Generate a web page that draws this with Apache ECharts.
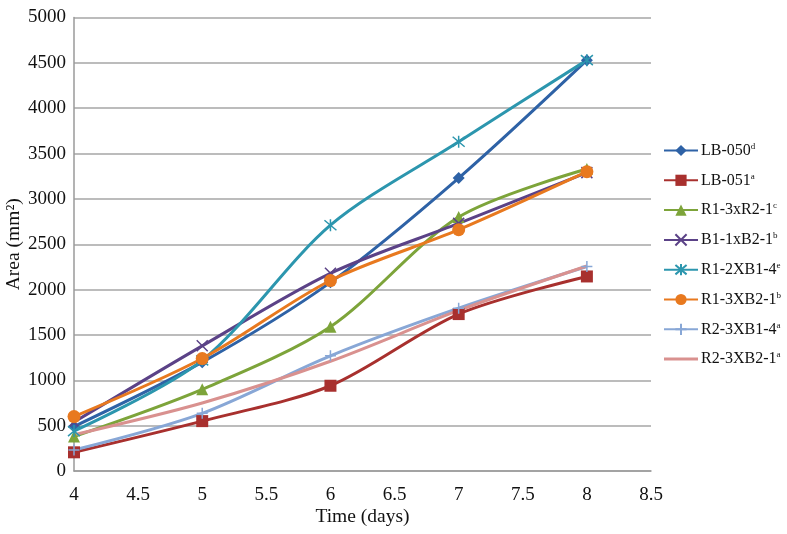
<!DOCTYPE html>
<html><head><meta charset="utf-8">
<script src="https://cdn.jsdelivr.net/npm/echarts@6/dist/echarts.min.js"></script>
<style>html,body{margin:0;padding:0;background:#fff}#c{width:787px;height:534px}</style>
</head><body><div id="c"></div>
<script>
const days = [4, 5, 6, 7, 8];
const seriesNames = ['LB-050','LB-051','R1-3xR2-1','B1-1xB2-1','R1-2XB1-4','R1-3XB2-1','R2-3XB1-4','R2-3XB2-1'];
const superscripts = ['d','a','c','b','e','b','a','a'];
const lb050 = [490, 1200, 2080, 3230, 4530];
const lb051 = [206, 550, 940, 1730, 2145];
const r13xr21 = [380, 900, 1590, 2800, 3330];
const b11xb21 = [540, 1380, 2180, 2730, 3290];
const r12xb14 = [440, 1220, 2710, 3630, 4530];
const r13xb21 = [600, 1240, 2100, 2660, 3300];
const r23xb14 = [232, 636, 1270, 1795, 2255];
const r23xb21 = [400, 750, 1210, 1770, 2260];
const yTicks = [0,500,1000,1500,2000,2500,3000,3500,4000,4500,5000];
const xTicks = [4,4.5,5,5.5,6,6.5,7,7.5,8,8.5];

const values = [lb050, lb051, r13xr21, b11xb21, r12xb14, r13xb21, r23xb14, r23xb21];
const colors = ['#2E62A6','#A8302E','#7DA43A','#5B4287','#2C96AE','#E8791F','#88A7D6','#D9918F'];
const crossPath = 'path://M0,0L10,10M10,0L0,10';
const starPath = 'path://M0,0L10,10M10,0L0,10M5,-1L5,11';
const plusPath = 'path://M5,0L5,10M0,5L10,5';
const symbols = ['diamond','rect','triangle',crossPath,starPath,'circle',plusPath,'none'];
const sizes = [12,12,12,11,12,13,11,0];

const chart = echarts.init(document.getElementById('c'), null, {renderer:'canvas'});
const font = '"Liberation Serif", "Times New Roman", serif';
const series = seriesNames.map((n, i) => {
  const isPath = typeof symbols[i] === 'string' && symbols[i].startsWith('path://');
  return {
    name: n, type: 'line', smooth: 0.3,
    data: days.map((d, j) => [d, values[i][j]]),
    symbol: symbols[i], symbolSize: sizes[i], showSymbol: symbols[i] !== 'none',
    lineStyle: {color: colors[i], width: 3},
    itemStyle: isPath ? {color: colors[i], borderColor: colors[i], borderWidth: 1.5} : {color: colors[i], borderWidth: 0},
    emphasis: {disabled: true}
  };
});
const legendData = seriesNames.map((n, i) => symbols[i] === 'none'
  ? {name: n, icon: 'path://M0,6L34,6L34,9L0,9Z', itemStyle: {color: colors[i]}}
  : {name: n});

chart.setOption({
  animation: false,
  textStyle: {fontFamily: font},
  grid: {left: 74, right: 136, top: 17.5, bottom: 63, outerBoundsMode: 'none', containLabel: false},
  legend: {
    orient: 'vertical', left: 663, top: 142, padding: 0, itemWidth: 34, itemHeight: 14, itemGap: 13.3,
    data: legendData,
    formatter: name => '{n|' + name + '}{s|' + superscripts[seriesNames.indexOf(name)] + '}',
    textStyle: {fontFamily: font, padding: [0,0,0,-2], rich: {
      n: {fontFamily: font, fontSize: 16, color: '#111'},
      s: {fontFamily: font, fontSize: 9, color: '#111', padding: [0,0,8,0]}
    }}
  },
  xAxis: {
    type: 'value', min: 4, max: 8.5, interval: 0.5,
    name: 'Time (days)', nameLocation: 'middle', nameGap: 36, nameMoveOverlap: false,
    nameTextStyle: {fontFamily: font, fontSize: 19.5, color: '#111'},
    axisLine: {show: true, lineStyle: {color: '#9a9a9a', width: 1.5}},
    axisTick: {show: false},
    splitLine: {show: false},
    axisLabel: {fontFamily: font, fontSize: 19, color: '#111', margin: 15,
      formatter: v => xTicks.includes(v) ? String(v) : ''}
  },
  yAxis: {
    type: 'value', min: 0, max: 5000, interval: 500,
    name: 'Area (mm²)', nameLocation: 'middle', nameGap: 50, nameMoveOverlap: false,
    nameTextStyle: {fontFamily: font, fontSize: 19.5, color: '#111'},
    axisLine: {show: true, lineStyle: {color: '#9a9a9a', width: 1.5}},
    axisTick: {show: false},
    splitLine: {show: true, lineStyle: {color: '#a6a6a6', width: 1.5}},
    axisLabel: {fontFamily: font, fontSize: 19, color: '#111', margin: 8,
      formatter: v => yTicks.includes(v) ? String(v) : ''}
  },
  series: series
});
</script></body></html>
